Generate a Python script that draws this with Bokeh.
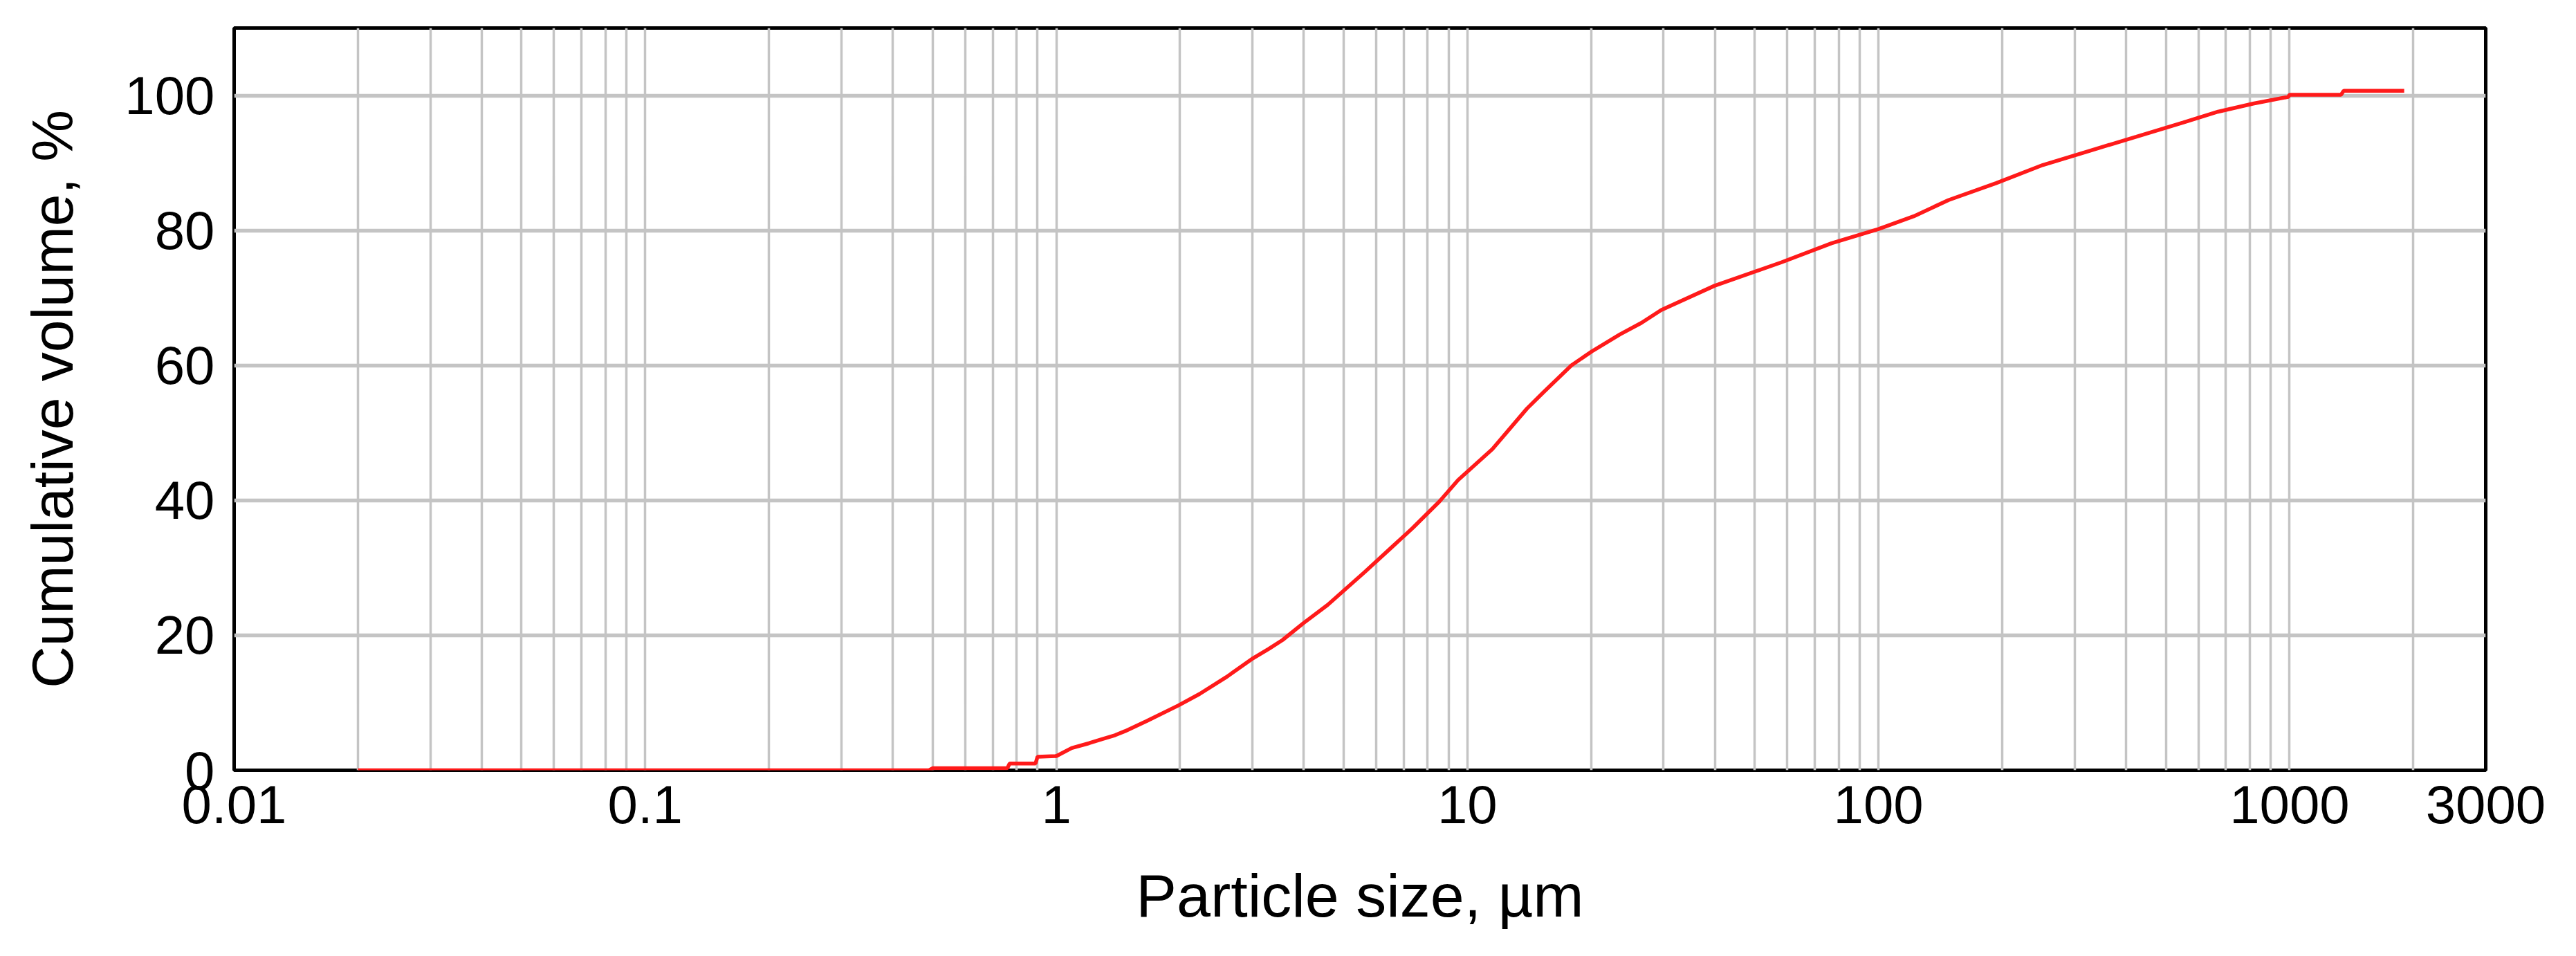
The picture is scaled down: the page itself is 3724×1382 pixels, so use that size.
from bokeh.plotting import figure
from bokeh.models import Range1d, FixedTicker, CustomJSTickFormatter
from bokeh.embed import file_html
from bokeh.resources import INLINE

# Particle size (µm) and cumulative volume (%)
size_um = [0.02, 0.3, 0.49, 0.5, 0.76, 0.77, 0.89, 0.9, 1.0, 1.09, 1.2, 1.29, 1.39, 1.47,
           1.66, 1.98, 2.23, 2.59, 3.01, 3.29, 3.55, 3.99, 4.57, 5.63, 6.53, 7.36,
           8.54, 9.49, 11.5, 13.96, 15.3, 17.9, 20.1, 23.5, 26.5, 29.6, 39.9, 58.2,
           76.9, 100, 121.8, 148, 193, 251, 326, 424, 551, 670, 816, 993, 1000, 1334,
           1354, 1900]
cum_volume = [0, 0, 0, 0.3, 0.3, 1.0, 1.0, 2.0, 2.1, 3.3, 4.0, 4.6, 5.2, 5.8,
              7.3, 9.6, 11.3, 13.8, 16.6, 18.0, 19.3, 21.8, 24.5, 29.4, 33.0, 35.9,
              39.8, 43.0, 47.6, 53.6, 56.0, 60.0, 62.1, 64.6, 66.3, 68.2, 71.8, 75.3,
              78.1, 80.2, 82.1, 84.5, 87.0, 89.7, 91.8, 93.9, 96.0, 97.6, 98.8, 99.8, 100.1, 100.1,
              100.7, 100.7]

x_tick_values = [0.01, 0.1, 1, 10, 100, 1000, 3000]
y_tick_values = [0, 20, 40, 60, 80, 100]
decades = [0.01, 0.1, 1, 10, 100, 1000]
x_grid_values = [m * d for d in decades for m in range(1, 10) if 0.01 < m * d <= 2000]

x_title = "Particle size, µm"
y_title = "Cumulative volume, %"

FONT = "Liberation Sans"

p = figure(width=3708, height=1366, x_axis_type="log",
           x_range=Range1d(0.01, 3000), y_range=Range1d(0, 110),
           output_backend="svg", toolbar_location=None,
           min_border_left=338, min_border_right=115,
           min_border_top=40, min_border_bottom=253)

p.background_fill_color = "white"
p.border_fill_color = "white"
p.outline_line_color = "black"
p.outline_line_width = 5

# grids
p.xgrid.ticker = FixedTicker(ticks=x_grid_values)
p.xgrid.grid_line_color = "#c4c4c4"
p.xgrid.grid_line_width = 3.5
p.ygrid.ticker = FixedTicker(ticks=y_tick_values)
p.ygrid.grid_line_color = "#c4c4c4"
p.ygrid.grid_line_width = 5.5

# axes
for ax in (p.xaxis[0], p.yaxis[0]):
    ax.axis_line_color = None
    ax.major_tick_line_color = None
    ax.minor_tick_line_color = None
    ax.major_tick_in = 0
    ax.major_tick_out = 0
    ax.minor_tick_in = 0
    ax.minor_tick_out = 0
    ax.major_label_text_font = FONT
    ax.major_label_text_font_size = "78px"
    ax.major_label_text_color = "black"
    ax.axis_label_text_font = FONT
    ax.axis_label_text_font_style = "normal"
    ax.axis_label_text_color = "black"

p.xaxis.ticker = FixedTicker(ticks=x_tick_values)
p.xaxis.formatter = CustomJSTickFormatter(code="return tick.toString();")
p.xaxis.major_label_standoff = 22
p.xaxis.axis_label = x_title
p.xaxis.axis_label_text_font_size = "88px"
p.xaxis.axis_label_standoff = 52

p.yaxis.ticker = FixedTicker(ticks=y_tick_values)
p.yaxis.major_label_standoff = 28
p.yaxis.axis_label = y_title
p.yaxis.axis_label_text_font_size = "84px"
p.yaxis.axis_label_standoff = 54

p.line(size_um, cum_volume, line_color="#ff1a1a", line_width=5.5)

open("out.html", "w").write(file_html(p, INLINE))
